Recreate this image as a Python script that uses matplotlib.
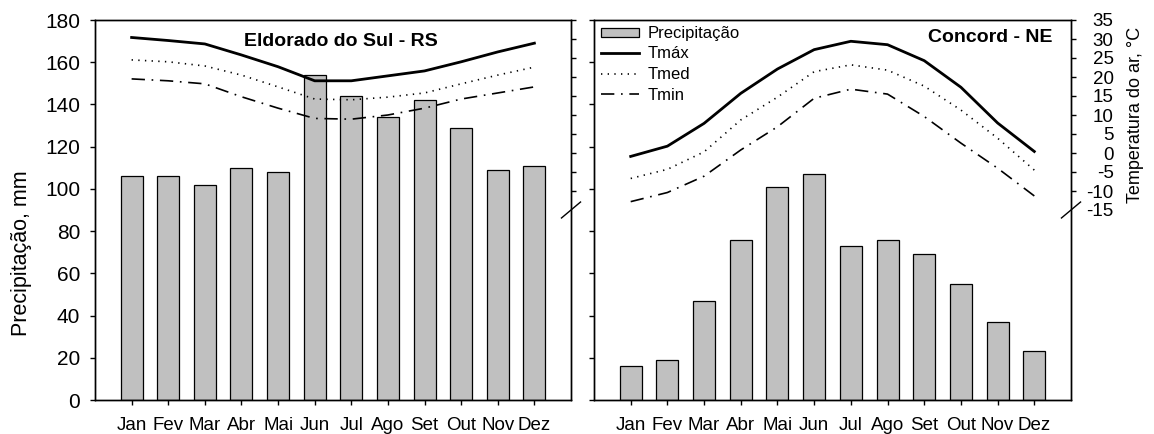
import matplotlib
matplotlib.use("Agg")
import matplotlib.pyplot as plt
from matplotlib.patches import Patch
from matplotlib.lines import Line2D
import matplotlib.transforms as mtransforms
import numpy as np

plt.rcParams['font.family'] = ['Liberation Sans', 'DejaVu Sans']
plt.rcParams['axes.unicode_minus'] = False

months = ["Jan", "Fev", "Mar", "Abr", "Mai", "Jun", "Jul", "Ago", "Set", "Out", "Nov", "Dez"]

# Eldorado do Sul - RS
eld_prec = [106, 106, 102, 110, 108, 154, 144, 134, 142, 129, 109, 111]
eld_tmax = [30.4, 29.6, 28.7, 25.8, 22.7, 19.0, 19.0, 20.3, 21.6, 24.0, 26.6, 28.9]
eld_tmed = [24.5, 24.0, 22.9, 20.5, 17.4, 14.2, 14.0, 14.7, 15.8, 18.2, 20.5, 22.6]
eld_tmin = [19.5, 19.0, 18.2, 14.8, 11.8, 9.1, 8.9, 10.0, 11.8, 14.2, 15.8, 17.4]

# Concord - NE
con_prec = [16, 19, 47, 76, 101, 107, 73, 76, 69, 55, 37, 23]
con_tmax = [-0.9, 1.8, 7.8, 15.7, 22.1, 27.2, 29.4, 28.5, 24.3, 17.3, 7.9, 0.4]
con_tmed = [-6.7, -4.3, 0.3, 8.7, 14.7, 21.4, 23.2, 21.8, 17.6, 11.3, 3.9, -4.5]
con_tmin = [-12.8, -10.4, -6.1, 0.8, 6.9, 14.4, 16.8, 15.5, 9.6, 2.6, -4.0, -11.3]

prec_ticks = list(range(0, 181, 20))
temp_ticks = list(range(-15, 36, 5))

W, H = 1154, 434
fig = plt.figure(figsize=(W / 100, H / 100), dpi=100)

def fx(px):
    return px / W

def fy(py):
    return 1 - py / H

top, bot = 20, 400
axL = fig.add_axes([fx(95), fy(bot), fx(571 - 95), (bot - top) / H])
axR = fig.add_axes([fx(594), fy(bot), fx(1071 - 594), (bot - top) / H])

x = np.arange(1, 13)
TL = 3.6  # tick length in points (~5 px)
dotted = (0, (0.8, 3.2))
dashdot = (0, (8, 4, 1, 4))

def setup(ax, prec, tmax, tmed, tmin, show_left, show_right):
    ax.bar(x, prec, width=0.6, color="#c0c0c0", edgecolor="black", linewidth=0.9, zorder=2)
    ax.set_xlim(0, 13)
    ax.set_ylim(0, 180)
    ax.set_xticks(x)
    ax.set_xticklabels(months, fontsize=13.5)
    ax.set_yticks(prec_ticks)
    ax.tick_params(axis="x", direction="out", length=TL, width=1, pad=9)
    ax.tick_params(axis="y", direction="out", length=TL, width=1, labelsize=15, pad=7)
    if not show_left:
        ax.set_yticklabels([])
    for s in ax.spines.values():
        s.set_linewidth(1.0)
    tw = ax.twinx()
    tw.set_ylim(-65, 35)
    tw.set_xlim(0, 13)
    tw.plot(x, tmax, color="black", lw=2.0, ls="-")
    tw.plot(x, tmed, color="black", lw=1.2, ls=dotted)
    tw.plot(x, tmin, color="black", lw=1.2, ls=dashdot)
    tw.set_yticks(temp_ticks)
    tw.tick_params(axis="y", direction="out", length=TL, width=1, labelsize=13.5)
    tw.yaxis.get_major_ticks()[0].tick2line.set_visible(False)
    if show_right:
        for lab in tw.get_yticklabels():
            lab.set_ha("right")
        tw.tick_params(axis="y", pad=27)
    else:
        tw.set_yticklabels([])
    for s in tw.spines.values():
        s.set_linewidth(1.0)
    trans = mtransforms.blended_transform_factory(tw.transAxes, tw.transData)
    tw.plot([0.98, 1.02], [-17.1, -12.9], color="black", lw=1.0,
            transform=trans, clip_on=False)
    return tw

twL = setup(axL, eld_prec, eld_tmax, eld_tmed, eld_tmin, True, False)
twR = setup(axR, con_prec, con_tmax, con_tmed, con_tmin, False, True)

axL.set_ylabel("Precipitação, mm", fontsize=15.5)
axL.yaxis.set_label_coords((32 - 95) / (571 - 95), (bot - 253) / (bot - top))
twR.set_ylabel("Temperatura do ar, °C", fontsize=13, rotation=90)
twR.yaxis.set_label_coords((1127 - 594) / (1071 - 594), (bot - 115) / (bot - top))

fig.text(fx(244), fy(42), "Eldorado do Sul - RS", fontsize=14, fontweight="bold",
         ha="left", va="center")
fig.text(fx(1053), fy(38), "Concord - NE", fontsize=14, fontweight="bold",
         ha="right", va="center")

handles = [
    Patch(facecolor="#c0c0c0", edgecolor="black", linewidth=0.9),
    Line2D([], [], color="black", lw=2.0, ls="-"),
    Line2D([], [], color="black", lw=1.2, ls=dotted),
    Line2D([], [], color="black", lw=1.2, ls=dashdot),
]
labels = ["Precipitação", "Tmáx", "Tmed", "Tmin"]
fig.legend(handles, labels, loc="upper left", bbox_to_anchor=(fx(601), fy(26)),
           frameon=False, fontsize=12, handlelength=2.3, handleheight=0.45,
           handletextpad=0.5, labelspacing=0.33, borderpad=0, borderaxespad=0)

fig.savefig("out.png", dpi=100)
